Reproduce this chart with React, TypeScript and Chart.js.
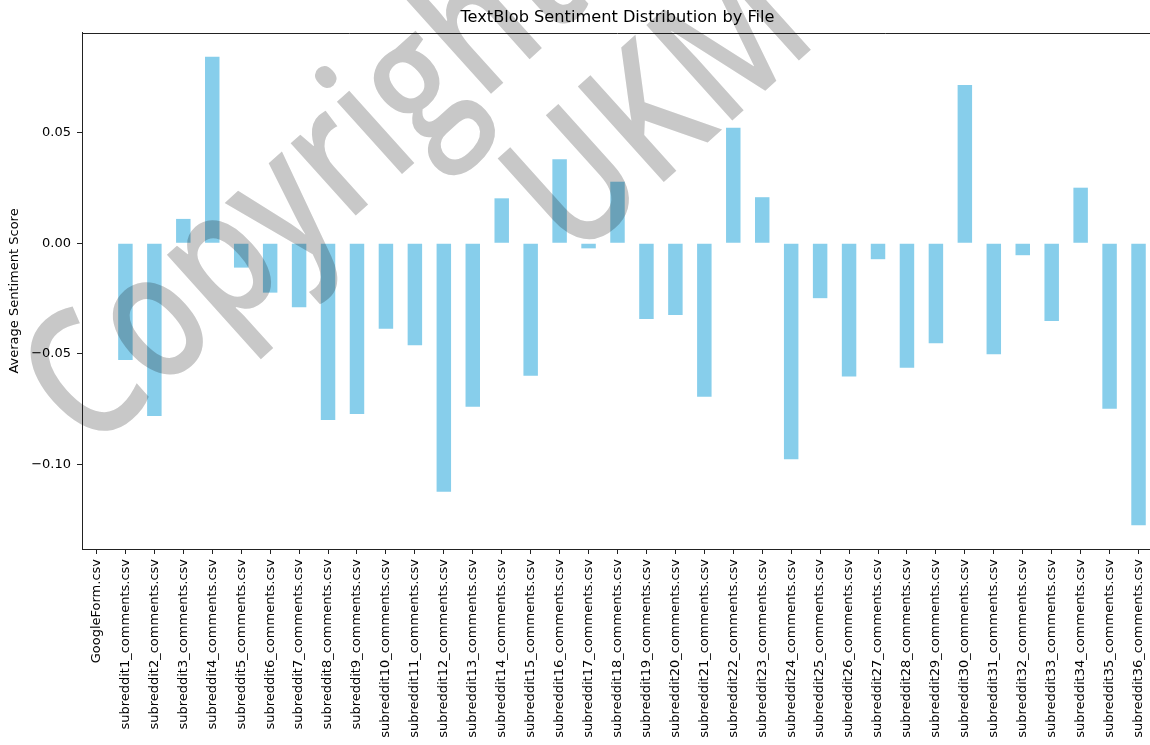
import { useEffect, useRef } from "react";
import { Chart, registerables } from "chart.js";

Chart.register(...registerables);

// Files on the x axis
const fileNames: string[] = [
  "GoogleForm.csv",
  "subreddit1_comments.csv",
  "subreddit2_comments.csv",
  "subreddit3_comments.csv",
  "subreddit4_comments.csv",
  "subreddit5_comments.csv",
  "subreddit6_comments.csv",
  "subreddit7_comments.csv",
  "subreddit8_comments.csv",
  "subreddit9_comments.csv",
  "subreddit10_comments.csv",
  "subreddit11_comments.csv",
  "subreddit12_comments.csv",
  "subreddit13_comments.csv",
  "subreddit14_comments.csv",
  "subreddit15_comments.csv",
  "subreddit16_comments.csv",
  "subreddit17_comments.csv",
  "subreddit18_comments.csv",
  "subreddit19_comments.csv",
  "subreddit20_comments.csv",
  "subreddit21_comments.csv",
  "subreddit22_comments.csv",
  "subreddit23_comments.csv",
  "subreddit24_comments.csv",
  "subreddit25_comments.csv",
  "subreddit26_comments.csv",
  "subreddit27_comments.csv",
  "subreddit28_comments.csv",
  "subreddit29_comments.csv",
  "subreddit30_comments.csv",
  "subreddit31_comments.csv",
  "subreddit32_comments.csv",
  "subreddit33_comments.csv",
  "subreddit34_comments.csv",
  "subreddit35_comments.csv",
  "subreddit36_comments.csv",
];

// Mean TextBlob polarity per file
const avgSentiment: number[] = [
  0.0, -0.0527, -0.078, 0.011, 0.0843, -0.011, -0.0223, -0.0289, -0.0798,
  -0.0771, -0.0386, -0.0461, -0.1122, -0.0738, 0.0203, -0.0598, 0.0379,
  -0.0023, 0.0278, -0.0342, -0.0324, -0.0693, 0.0522, 0.0208, -0.0976,
  -0.0248, -0.0602, -0.0072, -0.0562, -0.0452, 0.0715, -0.0501, -0.0054,
  -0.0351, 0.0251, -0.0748, -0.1274,
];

const yTickValues: number[] = [-0.1, -0.05, 0.0, 0.05];
const yRange: number[] = [-0.1381, 0.095];

const FONT = '"DejaVu Sans", sans-serif';
const INK = "#222";

const fmt = (v: number) => v.toFixed(2).replace("-", "\u2212");

// Top and right spines of the axes box
const framePlugin = {
  id: "frame",
  afterDatasetsDraw(chart: any) {
    const { ctx, chartArea } = chart;
    ctx.save();
    ctx.strokeStyle = INK;
    ctx.lineWidth = 1;
    ctx.beginPath();
    ctx.moveTo(chartArea.left, Math.round(chartArea.top) + 0.5);
    ctx.lineTo(chartArea.right, Math.round(chartArea.top) + 0.5);
    ctx.lineTo(chartArea.right, chartArea.bottom);
    ctx.stroke();
    ctx.restore();
  },
};

// Diagonal copyright watermark laid over the figure
const watermarkPlugin = {
  id: "watermark",
  afterDraw(chart: any) {
    const { ctx } = chart;
    ctx.save();
    ctx.globalCompositeOperation = "multiply";
    ctx.fillStyle = "rgb(200,200,200)";
    ctx.font = '600 180px "Open Sans", "Noto Sans", sans-serif';
    ctx.textBaseline = "alphabetic";
    ctx.translate(90, 455);
    ctx.rotate((-42 * Math.PI) / 180);
    ctx.scale(0.8, 1);
    ctx.fillText("Copyright", 0, 0);
    ctx.fillText("UKM", 611, 181);
    ctx.restore();
  },
};

export default function App() {
  const canvasRef = useRef<HTMLCanvasElement | null>(null);

  useEffect(() => {
    const canvas = canvasRef.current;
    if (!canvas) return;
    const chart = new Chart(canvas, {
      type: "bar",
      data: {
        labels: fileNames,
        datasets: [
          {
            data: avgSentiment,
            backgroundColor: "rgb(135,206,235)",
            borderWidth: 0,
            barPercentage: 0.5,
            categoryPercentage: 1.0,
          },
        ],
      },
      plugins: [framePlugin, watermarkPlugin],
      options: {
        responsive: false,
        animation: false,
        devicePixelRatio: 1,
        layout: { padding: { left: 0, right: 17, top: 0, bottom: 0 } },
        plugins: {
          legend: { display: false },
          tooltip: { enabled: false },
          title: {
            display: true,
            text: "TextBlob Sentiment Distribution by File",
            fullSize: false,
            color: "#000",
            font: { family: FONT, size: 16.2, weight: "normal" },
            padding: { top: 8.5, bottom: 5 },
          },
        },
        scales: {
          x: {
            type: "category",
            offset: true,
            grid: {
              display: true,
              offset: false,
              drawOnChartArea: false,
              drawTicks: true,
              tickLength: 5,
              color: INK,
            },
            border: { display: true, color: INK, width: 1 },
            ticks: {
              autoSkip: false,
              minRotation: 90,
              maxRotation: 90,
              padding: 5,
              color: "#000",
              font: { family: FONT, size: 13 },
            },
            afterFit(scale: any) {
              scale.height = 196;
            },
          },
          y: {
            type: "linear",
            min: yRange[0],
            max: yRange[1],
            grid: {
              display: true,
              drawOnChartArea: false,
              drawTicks: true,
              tickLength: 5,
              color: INK,
            },
            border: { display: true, color: INK, width: 1 },
            ticks: {
              includeBounds: false,
              padding: 6,
              color: "#000",
              font: { family: FONT, size: 13 },
              callback: (v: any) => fmt(Number(v)),
            },
            afterBuildTicks(scale: any) {
              scale.ticks = yTickValues.map((value) => ({ value }));
            },
            title: {
              display: true,
              text: "Average Sentiment Score",
              color: "#000",
              font: { family: FONT, size: 13 },
              padding: { top: 7, bottom: 0 },
            },
            afterFit(scale: any) {
              scale.width = 82;
            },
          },
        },
      },
    });
    return () => chart.destroy();
  }, []);

  return (
    <div
      style={{
        position: "fixed",
        left: 0,
        top: 0,
        width: 1150,
        height: 745,
        overflow: "hidden",
        background: "#fff",
      }}
    >
      <canvas ref={canvasRef} width={1170} height={745} style={{ display: "block" }} />
    </div>
  );
}
